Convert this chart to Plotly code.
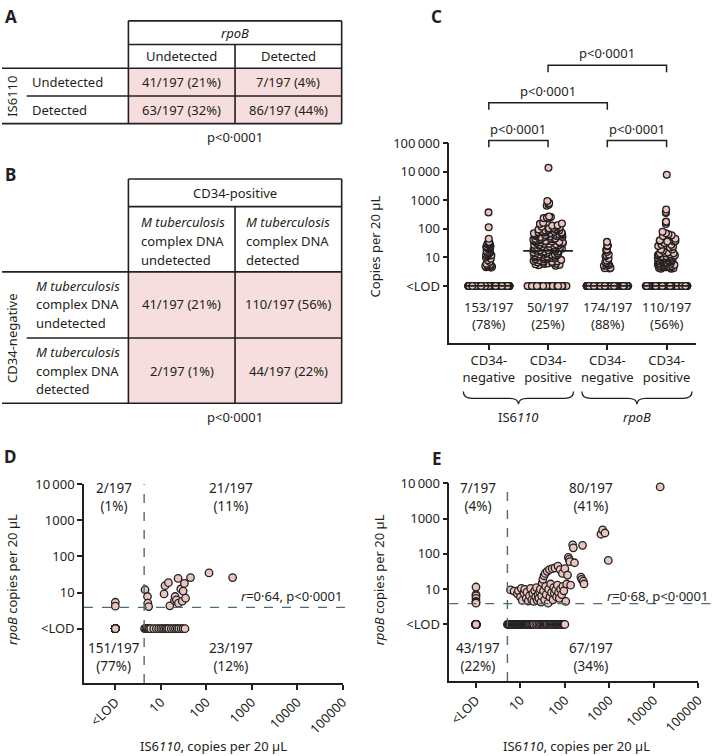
import numpy as np
import plotly.graph_objects as go

W, H = 717, 756
FONT = "Noto Sans"
INK = "#231f20"
CELL = "#f7dede"
DOT = "#e9c5bd"
TOTAL = 197
LOD = 1  # where "<LOD" sits on the log axes
P_TXT = "p&lt;0·0001"

# A: IS6110 (rows) by rpoB (columns)
a_labels = ["Undetected", "Detected"]
a_counts = [[41, 7], [63, 86]]

# B: CD34-negative (rows) by CD34-positive (columns)
b_labels = ["undetected", "detected"]
b_counts = [[41, 110], [2, 44]]

# D: CD34-negative fraction, copies per 20 uL
d_both_is6110 = [4.5, 5.1, 5.2, 5.4, 11.8, 12.4, 14.7, 15.8, 20.0, 20.6, 22.0,
                 24.0, 24.4, 27.5, 29.7, 31.0, 33.0, 35.0, 45.0, 115.0, 380.0]
d_both_rpob = [12.0, 7.8, 5.1, 4.1, 9.2, 15.6, 18.8, 4.3, 6.0, 7.8, 6.3,
               24.7, 5.1, 12.6, 5.8, 11.0, 18.0, 7.0, 26.0, 35.0, 26.0]
d_rpob_only = [5.4, 4.2]
d_is6110_only = [4.4, 4.7, 5.0, 5.3, 5.6, 6.0, 7.0, 8.0, 9.0, 10.0, 11.0, 12.0,
                 13.0, 14.0, 15.0, 17.0, 19.0, 21.0, 23.0, 25.0, 28.0, 31.0, 34.0]
d_neither = 151
d_cut = (4.3, 3.9)
d_r = "0·64"

# E: CD34-positive fraction, copies per 20 uL
e_both_is6110 = [6.0, 7.2, 8.5, 9.0, 10.0, 10.5, 11.0, 12.0, 12.5, 13.5, 14.0, 15.0, 16.0,
                 17.0, 18.0, 19.0, 20.0, 21.0, 22.0, 23.0, 24.0, 25.0, 26.0, 27.0, 28.0,
                 29.0, 30.0, 31.0, 32.0, 33.0, 34.0, 35.0, 36.0, 37.0, 38.0, 40.0, 42.0,
                 43.0, 45.0, 46.0, 48.0, 50.0, 52.0, 54.0, 56.0, 58.0, 60.0, 62.0, 65.0,
                 68.0, 70.0, 72.0, 75.0, 78.0, 80.0, 85.0, 88.0, 90.0, 95.0, 100.0,
                 105.0, 110.0, 115.0, 120.0, 125.0, 130.0, 135.0, 150.0, 155.0, 165.0,
                 230.0, 240.0, 250.0, 260.0, 270.0, 650.0, 710.0, 800.0, 950.0, 14000.0]
e_both_rpob = [9.5, 8.8, 7.5, 9.0, 6.0, 10.5, 4.8, 7.8, 9.8, 5.5, 8.2, 4.6, 6.5,
               10.5, 5.0, 7.5, 4.5, 9.0, 6.0, 11.0, 4.8, 7.0, 5.5, 8.5, 10.0,
               4.3, 6.5, 15.0, 19.0, 9.0, 24.0, 5.0, 28.0, 12.0, 7.0, 32.0, 4.0,
               10.0, 36.0, 6.0, 14.0, 8.0, 38.0, 5.0, 11.0, 7.5, 40.0, 9.5, 6.0,
               13.0, 45.0, 8.0, 5.5, 36.0, 10.0, 7.0, 28.0, 12.0, 9.0, 38.0,
               4.5, 14.0, 25.0, 80.0, 70.0, 60.0, 13.0, 180.0, 148.0, 56.0,
               22.0, 19.0, 175.0, 17.0, 14.0, 360.0, 480.0, 390.0, 65.0, 7900.0]
e_rpob_only = [11.5, 7.0, 6.5, 5.5, 4.5, 4.2, 4.0]
e_is6110_only = [5.1, 5.3, 5.5, 5.8, 5.9, 6.1, 6.4, 6.5, 6.8, 7.0,
                 7.3, 7.6, 7.9, 8.2, 8.6, 8.8, 9.1, 9.4, 9.8, 10.0,
                 10.4, 10.8, 11.2, 11.6, 12.0, 12.5, 12.8, 13.2, 13.6, 14.0,
                 14.5, 15.0, 15.5, 16.0, 17.0, 18.0, 19.0, 20.0, 22.0, 24.0,
                 26.0, 28.0, 30.0, 32.0, 34.0, 36.0, 38.0, 40.0, 43.0, 46.0,
                 49.0, 52.0, 55.0, 58.0, 61.0, 64.0, 67.0, 70.0, 73.0, 76.0,
                 79.0, 82.0, 85.0, 88.0, 92.0, 96.0, 100.0]
e_neither = 43
e_cut = (5.1, 3.9)
e_r = "0·68"

# C is the same specimens, one column per target and fraction
c_groups = [
    ("negative", d_both_is6110 + d_is6110_only, len(d_rpob_only) + d_neither),
    ("positive", e_both_is6110 + e_is6110_only, len(e_rpob_only) + e_neither),
    ("negative", d_both_rpob + d_rpob_only, len(d_is6110_only) + d_neither),
    ("positive", e_both_rpob + e_rpob_only, len(e_is6110_only) + e_neither),
]
c_spread = [0.14, 0.5, 0.14, 0.3]


def px(x):
    return x / W


def py(y):
    return 1 - y / H


def frac(n):
    return f"{n}/{TOTAL} ({round(100 * n / TOTAL)}%)"


def frac2(n):
    return f"{n}/{TOTAL}<br>({round(100 * n / TOTAL)}%)"


shapes, ann = [], []


def seg(x0, y0, x1, y1, w=1.6):
    shapes.append(dict(type="line", xref="paper", yref="paper", x0=px(x0), y0=py(y0),
                       x1=px(x1), y1=py(y1), line=dict(color=INK, width=w)))


def box(x0, y0, x1, y1):
    shapes.append(dict(type="rect", xref="paper", yref="paper", x0=px(x0), y0=py(y0),
                       x1=px(x1), y1=py(y1), fillcolor=CELL, line=dict(width=0), layer="below"))


def note(x, y, s, size=13, xref="paper", xanchor="center", **kw):
    ann.append(dict(x=x, y=py(y), xref=xref, yref="paper", text=s, showarrow=False,
                    xanchor=xanchor, yanchor="middle",
                    font=dict(size=size, color=INK, family=FONT), **kw))


def text(x, y, s, size=13, **kw):
    note(px(x), y, s, size=size, **kw)


# ---------- table A
cx = [182, 290]
box(128, 60, 344, 116)
for y in [12, 36]:
    seg(128, y, 344, y)
seg(0, 60, 344, 60)
seg(25, 88, 344, 88)
seg(0, 116, 344, 116)
seg(128, 12, 128, 116)
seg(236, 36, 236, 116)
seg(344, 12, 344, 116)
text(236, 24, "<i>rpoB</i>")
for j, lab in enumerate(a_labels):
    text(cx[j], 48, lab)
for i, lab in enumerate(a_labels):
    text(28, [74, 102][i], lab, xanchor="left")
    for j in range(2):
        text(cx[j], [74, 102][i], frac(a_counts[i][j]))
text(10, 88, "IS6110", textangle=-90)
text(236, 130, P_TXT)

# ---------- table B
box(128, 266, 344, 399)
for y in [172, 200]:
    seg(128, y, 344, y)
seg(0, 266, 344, 266)
seg(25, 333, 344, 333)
seg(0, 399, 344, 399)
seg(128, 172, 128, 399)
seg(236, 200, 236, 399)
seg(344, 172, 344, 399)
text(236, 186, "CD34-positive")
for j, lab in enumerate(b_labels):
    for k, line in enumerate(["<i>M tuberculosis</i>", "complex DNA", lab]):
        text([139, 245][j], 216 + 19 * k, line, xanchor="left")
for i, lab in enumerate(b_labels):
    for k, line in enumerate(["<i>M tuberculosis</i>", "complex DNA", lab]):
        text(32, [280, 347][i] + 19 * k, line, xanchor="left")
    for j in range(2):
        text(cx[j], [299, 366][i], frac(b_counts[i][j]))
text(10, 333, "CD34-negative", textangle=-90)
text(236, 413, P_TXT)

# panel letters
for lab, x, y in [("A", 1, 8), ("B", 1, 167), ("C", 432, 8), ("D", 0, 453), ("E", 433, 455)]:
    text(x, y, f"<b>{lab}</b>", size=17, xanchor="left")

fig = go.Figure()
mk = dict(color=DOT, line=dict(color=INK, width=1.3))
hidden = dict(line=dict(width=0, color="rgba(0,0,0,0)"), fillcolor="rgba(0,0,0,0)")

# ---------- panel C
for i, (kind, vals, n_lod) in enumerate(c_groups):
    fig.add_trace(go.Box(x0=i, y=[LOD] * n_lod, width=0.7, boxpoints="all", jitter=1, pointpos=0,
                         marker=dict(size=6.8, **mk), xaxis="x", yaxis="y", hoveron="points", **hidden))
    fig.add_trace(go.Box(x0=i, y=vals, width=c_spread[i], boxpoints="all", jitter=1, pointpos=0,
                         marker=dict(size=6.8, **mk), xaxis="x", yaxis="y", hoveron="points", **hidden))
for i, (kind, vals, n_lod) in enumerate(c_groups):
    med = float(np.median([LOD] * n_lod + list(vals)))
    fig.add_trace(go.Scatter(x=[i - 0.42, i + 0.42], y=[med, med], mode="lines",
                             line=dict(color=INK, width=1.8), xaxis="x", yaxis="y"))
    note(i, 310, frac2(TOTAL - len(vals)), xref="x")

c_pairs = [(0, 1, 133), (2, 3, 133), (0, 2, 95), (1, 3, 57)]
for a, b, yb in c_pairs:
    shapes.append(dict(type="path", xref="x", yref="paper",
                       path=f"M {a},{py(yb + 7)} L {a},{py(yb)} L {b},{py(yb)} L {b},{py(yb + 7)}",
                       line=dict(color=INK, width=1.5)))
    note((a + b) / 2, yb - 12, P_TXT, xref="x")


def brace(x0, x1, top, mid, bot, r=0.15):
    xm = (x0 + x1) / 2
    t, m, b = py(top), py(mid), py(bot)
    return (f"M {x0},{t} Q {x0},{m} {x0 + r},{m} L {xm - r},{m} Q {xm},{m} {xm},{b} "
            f"Q {xm},{m} {xm + r},{m} L {x1 - r},{m} Q {x1},{m} {x1},{t}")


for g, lab in [((0, 1), "IS6<i>110</i>"), ((2, 3), "<i>rpoB</i>")]:
    shapes.append(dict(type="path", xref="x", yref="paper", path=brace(g[0] - 0.43, g[1] + 0.43, 387, 394, 400),
                       line=dict(color=INK, width=1.3)))
    note((g[0] + g[1]) / 2, 413, lab, xref="x")
text(378, 240, "Copies per 20 µL", textangle=-90)


# ---------- panels D and E
def scatter_panel(xa, ya, both_x, both_y, y_only, x_only, n_none, cut, right):
    xs = [LOD] * n_none + list(x_only) + [LOD] * len(y_only) + list(both_x)
    ys = [LOD] * n_none + [LOD] * len(x_only) + list(y_only) + list(both_y)
    fig.add_trace(go.Scatter(x=xs, y=ys, mode="markers", marker=dict(size=7.5, **mk),
                             xaxis=xa, yaxis=ya, cliponaxis=False))
    dash = dict(color="#4a6b78", width=1.4, dash="dash")
    shapes.append(dict(type="line", xref=xa, yref=f"{ya} domain", x0=cut[0], x1=cut[0], y0=0, y1=1, line=dash))
    shapes.append(dict(type="line", xref=f"{xa} domain", yref=ya, x0=0, x1=right, y0=cut[1], y1=cut[1], line=dash))
    return [len(y_only), len(both_x), n_none, len(x_only)]


d_n = scatter_panel("x2", "y2", d_both_is6110, d_both_rpob, d_rpob_only, d_is6110_only, d_neither, d_cut, 1.01)
e_n = scatter_panel("x3", "y3", e_both_is6110, e_both_rpob, e_rpob_only, e_is6110_only, e_neither, e_cut, 1.05)

for n, (xl, xr), right, r in [(d_n, (113, 232), 346, d_r), (e_n, (482, 596), 717, e_r)]:
    text(xl, 494, frac2(n[0]), size=13.5)
    text(xr, 494, frac2(n[1]), size=13.5)
    text(xl, 656, frac2(n[2]), size=13.5)
    text(xr, 656, frac2(n[3]), size=13.5)
    text(right, 594, f"<i>r</i>={r}, {P_TXT}", xanchor="right")

text(214, 746, "IS6<i>110</i>, copies per 20 µL")
text(582, 746, "IS6<i>110</i>, copies per 20 µL")
text(10, 577, "<i>rpoB</i> copies per 20 µL", textangle=-90)
text(382, 578, "<i>rpoB</i> copies per 20 µL", textangle=-90)

ax = dict(showline=True, linecolor=INK, linewidth=1.5, ticks="outside", ticklen=5, tickwidth=1.5,
          tickcolor=INK, showgrid=False, zeroline=False, tickfont=dict(size=13, color=INK, family=FONT))
dec_x = [1, 10, 100, 1000, 10000, 100000]
dec_x_txt = ["&lt;LOD", "10", "100", "1000", "10000", "100000"]
dec_y = [1, 10, 100, 1000, 10000]
dec_y_txt = ["&lt;LOD", "10", "100", "1000", "10\u2009000"]

fig.update_layout(
    width=W, height=H, margin=dict(l=0, r=0, t=0, b=0),
    paper_bgcolor="white", plot_bgcolor="white", showlegend=False,
    font=dict(family=FONT, color=INK),
    xaxis=dict(ax, domain=[px(453), px(703)], range=[-0.667, 3.5], type="linear", anchor="y",
               tickvals=[0, 1, 2, 3], ticktext=[f"CD34-<br>{g[0]}" for g in c_groups]),
    yaxis=dict(ax, domain=[py(338), py(136)], type="log", range=[-2, 5], anchor="x",
               tickvals=dec_x, ticktext=["&lt;LOD", "10", "100", "1000", "10\u2009000", "100\u2009000"]),
    xaxis2=dict(ax, domain=[px(83), px(345)], type="log", range=[-0.69, 5], anchor="y2",
                tickvals=dec_x, ticktext=dec_x_txt, tickangle=-45),
    yaxis2=dict(ax, domain=[py(682), py(481)], type="log", range=[-1.5, 4], anchor="x2",
                tickvals=dec_y, ticktext=dec_y_txt),
    xaxis3=dict(ax, domain=[px(453), px(705)], type="log", range=[-0.6, 5], anchor="y3",
                tickvals=dec_x, ticktext=dec_x_txt, tickangle=-45),
    yaxis3=dict(ax, domain=[py(680), py(480)], type="log", range=[-1.6, 4], anchor="x3",
                tickvals=dec_y, ticktext=dec_y_txt),
    shapes=shapes, annotations=ann,
)
fig.write_html("out.html", config={"displayModeBar": False},
               post_script="document.body.style.margin='0';document.body.style.overflow='hidden';")
